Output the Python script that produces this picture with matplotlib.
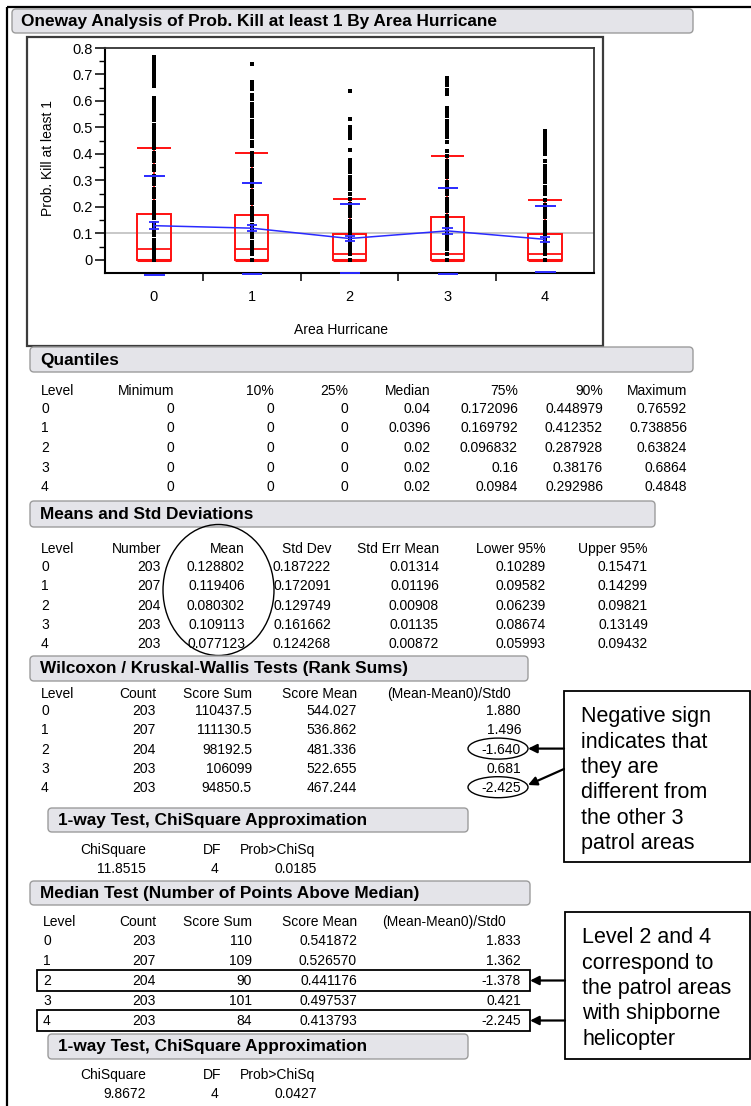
import matplotlib
matplotlib.use('Agg')
import matplotlib.pyplot as plt
from matplotlib.patches import FancyBboxPatch, Rectangle, Ellipse
from matplotlib.ticker import FixedLocator
import numpy as np

plt.rcParams['font.family'] = ['Liberation Sans', 'DejaVu Sans']

# ---------------- data ----------------
levels = ['0', '1', '2', '3', '4']

g0 = [0.766, 0.752, 0.738, 0.724, 0.710, 0.697, 0.683, 0.668, 0.655, 0.610, 0.597,
      0.583, 0.569, 0.555, 0.541, 0.527, 0.510, 0.494, 0.478, 0.462, 0.447, 0.433,
      0.423, 0.404, 0.388, 0.372, 0.356, 0.340, 0.318, 0.302, 0.286, 0.268, 0.252,
      0.236, 0.220, 0.204, 0.188, 0.172, 0.156, 0.140, 0.124, 0.108, 0.092, 0.076,
      0.060, 0.044, 0.028, 0.014, 0.0]
g1 = [0.739, 0.672, 0.659, 0.646, 0.622, 0.606, 0.590, 0.574, 0.558, 0.542, 0.526,
      0.510, 0.494, 0.478, 0.462, 0.446, 0.430, 0.405, 0.389, 0.373, 0.357, 0.341,
      0.325, 0.309, 0.293, 0.277, 0.261, 0.245, 0.229, 0.213, 0.197, 0.181, 0.165,
      0.149, 0.133, 0.117, 0.101, 0.085, 0.069, 0.053, 0.037, 0.021, 0.0]
g2 = [0.638, 0.530, 0.503, 0.489, 0.475, 0.460, 0.414, 0.378, 0.362, 0.346, 0.330,
      0.314, 0.298, 0.282, 0.266, 0.250, 0.228, 0.212, 0.196, 0.180, 0.164, 0.148,
      0.132, 0.116, 0.100, 0.084, 0.068, 0.052, 0.036, 0.020, 0.0]
g3 = [0.686, 0.674, 0.661, 0.640, 0.626, 0.574, 0.558, 0.542, 0.526, 0.510, 0.494,
      0.478, 0.462, 0.446, 0.410, 0.391, 0.375, 0.359, 0.343, 0.327, 0.311, 0.295,
      0.279, 0.263, 0.247, 0.231, 0.215, 0.199, 0.183, 0.167, 0.151, 0.135, 0.119,
      0.103, 0.087, 0.071, 0.055, 0.039, 0.020, 0.0]
g4 = [0.485, 0.471, 0.457, 0.443, 0.428, 0.413, 0.398, 0.372, 0.356, 0.340, 0.324,
      0.308, 0.292, 0.276, 0.260, 0.250, 0.224, 0.208, 0.192, 0.176, 0.160, 0.144,
      0.128, 0.112, 0.096, 0.080, 0.064, 0.048, 0.032, 0.020, 0.0]
groups = [g0, g1, g2, g3, g4]

q25 = [0, 0, 0, 0, 0]
q_median = [0.04, 0.0396, 0.02, 0.02, 0.02]
q75 = [0.172096, 0.169792, 0.096832, 0.16, 0.0984]
whisker_hi = [0.423, 0.405, 0.228, 0.391, 0.224]

q_cols = ['Level', 'Minimum', '10%', '25%', 'Median', '75%', '90%', 'Maximum']
q_rows = [['0', '0', '0', '0', '0.04', '0.172096', '0.448979', '0.76592'],
          ['1', '0', '0', '0', '0.0396', '0.169792', '0.412352', '0.738856'],
          ['2', '0', '0', '0', '0.02', '0.096832', '0.287928', '0.63824'],
          ['3', '0', '0', '0', '0.02', '0.16', '0.38176', '0.6864'],
          ['4', '0', '0', '0', '0.02', '0.0984', '0.292986', '0.4848']]

number = [203, 207, 204, 203, 203]
means = [0.128802, 0.119406, 0.080302, 0.109113, 0.077123]
std_dev = [0.187222, 0.172091, 0.129749, 0.161662, 0.124268]
std_err = [0.01314, 0.01196, 0.00908, 0.01135, 0.00872]
lower95 = ['0.10289', '0.09582', '0.06239', '0.08674', '0.05993']
upper95 = ['0.15471', '0.14299', '0.09821', '0.13149', '0.09432']
m_cols = ['Level', 'Number', 'Mean', 'Std Dev', 'Std Err Mean', 'Lower 95%', 'Upper 95%']

w_cols = ['Level', 'Count', 'Score Sum', 'Score Mean', '(Mean-Mean0)/Std0']
w_count = ['203', '207', '204', '203', '203']
w_sum = ['110437.5', '111130.5', '98192.5', '106099', '94850.5']
w_mean = ['544.027', '536.862', '481.336', '522.655', '467.244']
w_z = ['1.880', '1.496', '-1.640', '0.681', '-2.425']
chi1 = ['11.8515', '4', '0.0185']

md_sum = ['110', '109', '90', '101', '84']
md_mean = ['0.541872', '0.526570', '0.441176', '0.497537', '0.413793']
md_z = ['1.833', '1.362', '-1.378', '0.421', '-2.245']
chi2 = ['9.8672', '4', '0.0427']
chi_cols = ['ChiSquare', 'DF', 'Prob>ChiSq']

note1 = ['Negative sign', 'indicates that', 'they are', 'different from',
         'the other 3', 'patrol areas']
note2 = ['Level 2 and 4', 'correspond to', 'the patrol areas', 'with shipborne',
         'helicopter']

# ---------------- figure ----------------
W, H = 751, 1106
fig = plt.figure(figsize=(W / 100, H / 100), dpi=100)
bg = fig.add_axes([0, 0, 1, 1])
bg.set_xlim(0, W)
bg.set_ylim(H, 0)
bg.axis('off')

TS = 10      # table font size
HS = 12.4    # header font size


def header(x0, x1, y0, y1, text, tx):
    p = FancyBboxPatch((x0, y0), x1 - x0, y1 - y0,
                       boxstyle='round,pad=0,rounding_size=4',
                       fc='#e4e4e9', ec='#9c9c9c', lw=1.0)
    bg.add_patch(p)
    bg.text(tx, (y0 + y1) / 2 + 0.5, text, fontsize=HS, fontweight='bold',
            va='center', ha='left')


def row(y, items, xs, aligns):
    for t, x, a in zip(items, xs, aligns):
        bg.text(x, y + 5, t, fontsize=TS, ha=a, va='baseline')


# page border
bg.plot([7, W], [7, 7], color='black', lw=1.6, solid_capstyle='butt')
bg.plot([7, 7], [7, H], color='black', lw=1.6, solid_capstyle='butt')

# title
header(12, 693, 9, 33, 'Oneway Analysis of Prob. Kill at least 1 By Area Hurricane', 21)
# outer plot frame
bg.add_patch(Rectangle((27, 37), 576, 309, fill=False, ec='#3c3c3c', lw=1.6))

# ---------------- plot ----------------
ax = fig.add_axes([105 / W, 1 - 273 / H, 489 / W, 225 / H])
ax.set_xlim(-0.5, 4.5)
ax.set_ylim(-0.05, 0.8)
red = '#ff1010'
blue = '#2a2aff'
bw = 0.34
pos = np.arange(len(levels))

grand_mean = sum(n * m for n, m in zip(number, means)) / sum(number)
ax.axhline(grand_mean, color='#c4c4c4', lw=1.3, zorder=1)

for i in range(len(levels)):
    ax.add_patch(Rectangle((i - bw / 2, q25[i]), bw, q75[i] - q25[i], fill=False,
                           ec=red, lw=1.4, zorder=3))
    ax.hlines(q25[i], i - bw / 2, i + bw / 2, color=red, lw=2.2, zorder=3)
    ax.hlines(q_median[i], i - bw / 2, i + bw / 2, color=red, lw=1.3, zorder=3)
    ax.vlines(i, q75[i], whisker_hi[i], color=red, lw=1.2, zorder=3)
    ax.hlines(whisker_hi[i], i - bw / 2, i + bw / 2, color=red, lw=1.4, zorder=3)

for i, g in enumerate(groups):
    ax.plot([i] * len(g), g, 's', ms=2.3, color='black', mew=0, zorder=5)

for i in range(len(levels)):
    m, sd, se = means[i], std_dev[i], std_err[i]
    ax.hlines([m + sd, m - sd], i - 0.1, i + 0.11, color=blue, lw=1.4, zorder=6,
              clip_on=False)
    ax.hlines([m + se, m - se], i - 0.05, i + 0.055, color=blue, lw=1.3, zorder=6)
    ax.vlines(i, m - se, m + se, color=blue, lw=1.2, zorder=6)
ax.plot(pos, means, color=blue, lw=1.1, zorder=6)

ax.yaxis.set_major_locator(FixedLocator([0, 0.1, 0.2, 0.3, 0.4, 0.5, 0.6, 0.7, 0.8]))
ax.set_yticklabels(['0', '0.1', '0.2', '0.3', '0.4', '0.5', '0.6', '0.7', '0.8'])
ax.yaxis.set_minor_locator(FixedLocator([0.05, 0.15, 0.25, 0.35, 0.45, 0.55, 0.65, 0.75]))
ax.tick_params(axis='y', which='major', length=7, width=1.1, pad=2, labelsize=10.5)
ax.tick_params(axis='y', which='minor', length=4, width=1.0)
ax.set_xticks(pos)
ax.set_xticklabels(levels)
ax.xaxis.set_minor_locator(FixedLocator([0.5, 1.5, 2.5, 3.5]))
ax.tick_params(axis='x', which='major', length=0, pad=12, labelsize=10.5)
ax.tick_params(axis='x', which='minor', length=6, width=1.1)
for s in ['left', 'bottom']:
    ax.spines[s].set_linewidth(1.5)
    ax.spines[s].set_color('black')
for s in ['top', 'right']:
    ax.spines[s].set_linewidth(1.3)
    ax.spines[s].set_color('#333333')

bg.text(48, 158, 'Prob. Kill at least 1', fontsize=10, rotation=90, ha='center', va='center')
bg.text(341, 330, 'Area Hurricane', fontsize=10, ha='center', va='center')

# ---------------- Quantiles ----------------
header(30, 693, 347, 372, 'Quantiles', 40)
qx = [41, 174, 274, 348, 431, 518, 603, 687]
qa = ['left'] + ['right'] * 7
row(390, q_cols, qx, qa)
for k, r in enumerate(q_rows):
    row(408 + 19.5 * k, r, qx, qa)

# ---------------- Means ----------------
header(30, 655, 501, 527, 'Means and Std Deviations', 40)
mx = [41, 161, 245, 331, 439, 546, 648]
ma = ['left'] + ['right'] * 6
row(548, m_cols, mx, ma)
for k in range(5):
    row(566 + 19.3 * k,
        [levels[k], str(number[k]), f'{means[k]:.6f}', f'{std_dev[k]:.6f}',
         f'{std_err[k]:.5f}', lower95[k], upper95[k]], mx, ma)
bg.add_patch(Ellipse((218.5, 590), 111, 131, fill=False, ec='black', lw=1.0))

# ---------------- Wilcoxon ----------------
header(30, 528, 656, 681, 'Wilcoxon / Kruskal-Wallis Tests (Rank Sums)', 40)
wx = [41, 156, 252, 357, 511]
wa = ['left', 'right', 'right', 'right', 'right']
row(693, w_cols, wx, wa)
wxd = [41, 156, 252, 357, 521]
for k in range(5):
    row(710 + 19.3 * k, [levels[k], w_count[k], w_sum[k], w_mean[k], w_z[k]], wxd, wa)
bg.add_patch(Ellipse((498, 748.6), 60, 21, fill=False, ec='black', lw=1.0))
bg.add_patch(Ellipse((498, 787.2), 60, 21, fill=False, ec='black', lw=1.0))

header(48, 468, 808, 832, '1-way Test, ChiSquare Approximation', 58)
cx = [146, 221, 315]
cxd = [146, 218, 317]
row(849, chi_cols, cx, ['right'] * 3)
row(868, chi1, cxd, ['right'] * 3)

# ---------------- Median test ----------------
header(30, 530, 881, 905, 'Median Test (Number of Points Above Median)', 40)
mdx = [43, 156, 252, 357, 506]
row(921, w_cols, mdx, wa)
mdxd = [43, 156, 252, 357, 521]
for k in range(5):
    row(940 + 20 * k, [levels[k], w_count[k], md_sum[k], md_mean[k], md_z[k]], mdxd, wa)
bg.add_patch(Rectangle((37, 970), 493, 21, fill=False, ec='black', lw=1.3))
bg.add_patch(Rectangle((37, 1010), 493, 21, fill=False, ec='black', lw=1.3))

header(48, 468, 1034, 1059, '1-way Test, ChiSquare Approximation', 58)
row(1074, chi_cols, cx, ['right'] * 3)
row(1093, chi2, cxd, ['right'] * 3)

# ---------------- callouts ----------------
NS = 15.5
bg.add_patch(Rectangle((564, 691), 186, 171, fill=False, ec='black', lw=1.3))
for k, t in enumerate(note1):
    bg.text(581, 722 + 25.5 * k, t, fontsize=NS, ha='left', va='baseline')
bg.add_patch(Rectangle((565, 912), 185, 147, fill=False, ec='black', lw=1.3))
for k, t in enumerate(note2):
    bg.text(582, 943 + 25.5 * k, t, fontsize=NS, ha='left', va='baseline')

arrow = dict(arrowstyle='-|>', color='black', lw=1.6, mutation_scale=13,
             shrinkA=0, shrinkB=0)
bg.annotate('', xy=(528, 748.6), xytext=(564, 748.6), arrowprops=arrow)
bg.annotate('', xy=(528, 785), xytext=(564, 769), arrowprops=arrow)
bg.annotate('', xy=(530, 980.5), xytext=(565, 980.5), arrowprops=arrow)
bg.annotate('', xy=(530, 1020.5), xytext=(565, 1020.5), arrowprops=arrow)

fig.savefig('out.png', dpi=100)
